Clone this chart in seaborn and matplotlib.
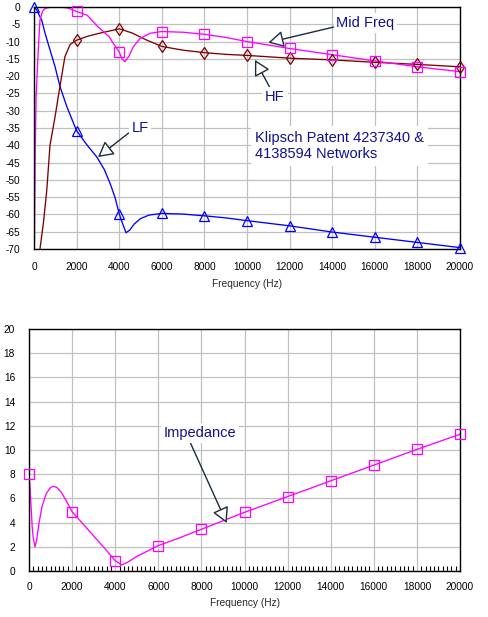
import numpy as np
import pandas as pd
import matplotlib
matplotlib.use("Agg")
import matplotlib.pyplot as plt
import seaborn as sns
from matplotlib.ticker import MultipleLocator

# ---------------- data ----------------
lf_freq = [0, 50, 130, 200, 360, 520, 750, 990, 1220, 1540, 2000, 2500, 2950, 3300,
           3570, 3800, 4000, 4150, 4320, 4500, 4700, 5000, 5400, 6000, 7000, 8000,
           9000, 10000, 12000, 14000, 16000, 18000, 20000]
lf_db = [0, -0.2, -0.9, -1.8, -3.8, -7.6, -12.4, -17.3, -23, -28.8, -35.8, -40, -43.4, -47,
         -51, -55, -59.8, -62.5, -65.3, -64.5, -62.8, -61.2, -60.2, -59.7, -59.9, -60.4,
         -61, -61.8, -63.3, -65.1, -66.6, -68.1, -69.6]

mf_freq = [0, 60, 100, 200, 280, 400, 520, 830, 1200, 1600, 2000, 2500, 3000, 3530,
           3720, 4000, 4130, 4270, 4450, 4660, 4980, 5450, 6000, 7000, 8000, 9000,
           10000, 12000, 14000, 16000, 18000, 20000]
mf_db = [-80, -40, -26, -12.4, -3.8, -1.2, -0.4, 0, 0, -0.3, -1.3, -2.4, -5.7, -8.6,
         -10.5, -13.0, -15.0, -15.8, -14.3, -11.5, -9.1, -7.6, -7.1, -7.3, -7.9, -8.8,
         -10.0, -12.0, -13.8, -15.6, -17.3, -18.7]

hf_freq = [0, 250, 280, 440, 600, 750, 990, 1140, 1450, 1700, 2000, 2500, 3000, 3500,
           4000, 4600, 5300, 6000, 7000, 8000, 9000, 10000, 12000, 14000, 16000,
           18000, 20000]
hf_db = [-85, -85, -70, -62.6, -53, -40, -31.7, -25.9, -14.4, -10.8, -9.6, -8.5, -7.7,
         -7.0, -6.3, -7.5, -9.6, -11.4, -12.5, -13.2, -13.7, -14.0, -14.8, -15.3, -16.0,
         -16.6, -17.3]

imp_freq = [0, 50, 100, 150, 200, 280, 350, 450, 600, 800, 1000, 1130, 1300, 1500, 1700,
            2000, 2500, 3000, 3500, 4000, 4300, 4600, 5000, 5500, 6000, 7000, 8000,
            9000, 10000, 12000, 14000, 16000, 18000, 20000]
imp_ohm = [8.0, 6.8, 5.2, 3.6, 2.7, 2.0, 2.5, 3.8, 5.3, 6.4, 6.9, 7.0, 6.9, 6.5, 5.9,
           4.9, 3.9, 2.9, 1.9, 0.85, 0.5, 0.75, 1.2, 1.65, 2.1, 2.75, 3.45, 4.15, 4.85,
           6.15, 7.45, 8.75, 10.05, 11.3]

x_ticks = list(range(0, 20001, 2000))
top_yticks = list(range(-70, 1, 5))
bot_yticks = list(range(0, 21, 2))

title_text = "Klipsch Patent 4237340 &\n4138594 Networks"

# ---------------- style ----------------
sns.set_style("white")
plt.rcParams["font.family"] = ["Liberation Sans", "DejaVu Sans"]
plt.rcParams["axes.unicode_minus"] = False

C_LF, C_MF, C_HF = "#0000ff", "#ff00ff", "#800000"
TXT = "#101090"
GRID = "#c0c0c0"
ARROW = dict(arrowstyle="-|>,head_length=0.55,head_width=0.3", fc="white",
             ec="#1c2c3c", lw=1.0, mutation_scale=17, shrinkA=0, shrinkB=0)

fig = plt.figure(figsize=(4.88, 6.17), dpi=100)
ax1 = fig.add_axes([34 / 488, 1 - 249 / 617, 426 / 488, 242 / 617])
ax2 = fig.add_axes([29 / 488, 1 - 571 / 617, 431 / 488, 242 / 617])


def style_axes(ax, yticks, xpad, ypad):
    ax.set_xlim(0, 20000)
    ax.set_xticks(x_ticks)
    ax.set_yticks(yticks)
    ax.set_ylim(min(yticks), max(yticks))
    ax.grid(True, color=GRID, lw=0.9)
    ax.set_axisbelow(True)
    for s in ax.spines.values():
        s.set_color("black")
        s.set_linewidth(1.0)
        s.set_visible(True)
    ax.tick_params(axis="x", which="major", length=0, pad=xpad, labelsize=7.3,
                   labelcolor="black")
    ax.tick_params(axis="y", which="major", length=0, pad=ypad, labelsize=7.3,
                   labelcolor="black")


def draw_series(ax, freq, vals, color, marker, ms, lo):
    df = pd.DataFrame({"f": freq, "v": vals})
    sns.lineplot(data=df, x="f", y="v", ax=ax, color=color, lw=0.95,
                 estimator=None, sort=True)
    m = df[(df["f"] % 2000 == 0) & (df["v"] >= lo)]
    ax.plot(m["f"], m["v"], ls="none", marker=marker, ms=ms, mfc="none",
            mec=color, mew=0.9, clip_on=False, zorder=5)


# ---------------- top chart ----------------
style_axes(ax1, top_yticks, 9.5, 10)
draw_series(ax1, lf_freq, lf_db, C_LF, "^", 6.5, -70)
draw_series(ax1, hf_freq, hf_db, C_HF, "d", 6, -70)
draw_series(ax1, mf_freq, mf_db, C_MF, "s", 7, -70)
ax1.set_xlabel("Frequency (Hz)", fontsize=7.3, labelpad=5)
ax1.set_ylabel("")

bb = dict(fc="white", ec="none", pad=2)
ax1.annotate("Mid Freq", xy=(11000, -10.3), xytext=(15560, -4.6),
             ha="center", va="center", fontsize=10.5, color=TXT, bbox=bb,
             arrowprops=dict(ARROW, relpos=(0.0, 0.25)))
ax1.annotate("HF", xy=(10376, -15.3), xytext=(11315, -26.0),
             ha="center", va="center", fontsize=10.5, color=TXT, bbox=bb,
             arrowprops=dict(ARROW, relpos=(0.3, 1.0)))
ax1.annotate("LF", xy=(3005, -43.4), xytext=(4977, -35.0),
             ha="center", va="center", fontsize=10.5, color=TXT, bbox=bb,
             arrowprops=dict(ARROW, relpos=(0.0, 0.3)))
ax1.text(10376, -40.2, title_text, ha="left", va="center", fontsize=10.5,
         color=TXT, linespacing=1.25, bbox=dict(fc="white", ec="none", pad=3))

# ---------------- bottom chart ----------------
style_axes(ax2, bot_yticks, 8, 10)
ax2.xaxis.set_minor_locator(MultipleLocator(200))
ax2.tick_params(axis="x", which="minor", direction="in", length=3.3, width=0.8,
                color="black", bottom=True)
draw_series(ax2, imp_freq, imp_ohm, C_MF, "s", 7, 0)
ax2.set_xlabel("Frequency (Hz)", fontsize=7.3, labelpad=4.3)
ax2.set_ylabel("")
ax2.annotate("Impedance", xy=(9174, 3.97), xytext=(7935, 11.4),
             ha="center", va="center", fontsize=10.5, color=TXT, bbox=bb,
             arrowprops=dict(ARROW, relpos=(0.35, 0.0)))

fig.savefig("out.png", dpi=100)
